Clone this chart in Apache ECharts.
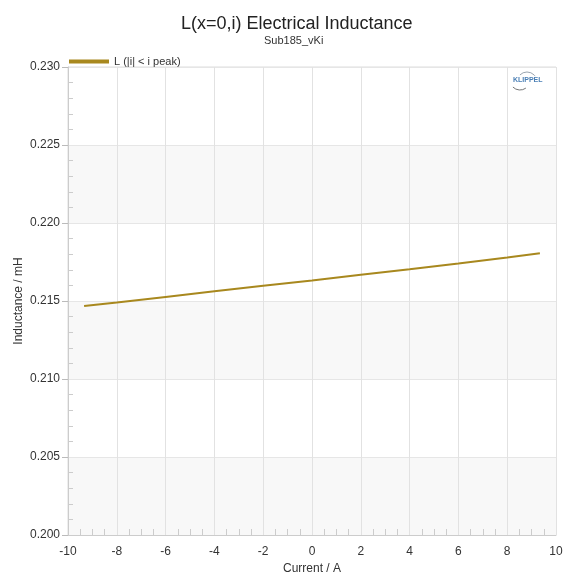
<!DOCTYPE html>
<html><head><meta charset="utf-8">
<script src="https://cdn.jsdelivr.net/npm/echarts@6/dist/echarts.min.js"></script>
<style>html,body{margin:0;padding:0;background:#fff}#c{width:563px;height:576px}</style>
</head><body><div id="c"></div>
<script>
const currentA = [-9.34, -8, -6, -4, -2, 0, 2, 4, 6, 8, 9.34];
const inductanceMH = [0.21468, 0.21490, 0.21526, 0.21562, 0.21597, 0.21632, 0.21668, 0.21704, 0.21741, 0.21779, 0.21806];
const seriesName = 'L (|i| < i peak)';
const yTicks = { min: 0.200, max: 0.230, interval: 0.005 };
const xTicks = { min: -10, max: 10, interval: 2 };

const font = 'Liberation Sans, Arial, sans-serif';
const chart = echarts.init(document.getElementById('c'));
chart.setOption({
  animation: false,
  backgroundColor: '#fff',
  title: [{
    text: 'L(x=0,i) Electrical Inductance',
    left: 176, top: 10,
    textStyle: { fontFamily: font, fontSize: 18, fontWeight: 'normal', color: '#222' }
  }, {
    text: 'Sub185_vKi',
    left: 259, top: 30,
    textStyle: { fontFamily: font, fontSize: 11, fontWeight: 'normal', color: '#333' }
  }],
  legend: {
    left: 64, top: 51, icon: 'rect', itemWidth: 40, itemHeight: 4, itemGap: 5,
    textStyle: { fontFamily: font, fontSize: 11, color: '#333' },
    data: [seriesName]
  },
  grid: { left: 68, right: 7, top: 67, bottom: 41, outerBoundsMode: 'none', containLabel: false, show: true, borderColor: '#ddd', borderWidth: 1 },
  xAxis: {
    type: 'value', min: xTicks.min, max: xTicks.max, interval: xTicks.interval,
    name: 'Current / A', nameLocation: 'middle', nameGap: 28,
    nameTextStyle: { fontFamily: font, fontSize: 12, color: '#333' },
    axisLine: { show: true, onZero: false, lineStyle: { color: '#ccc' } },
    axisTick: { show: false, inside: true },
    minorTick: { show: true, splitNumber: 4, length: 6, lineStyle: { color: '#ccc' } },
    axisLabel: { fontFamily: font, fontSize: 12, color: '#333', margin: 11 },
    splitLine: { show: true, lineStyle: { color: '#e2e2e2' } }
  },
  yAxis: [{
    type: 'value', min: yTicks.min, max: yTicks.max, interval: yTicks.interval,
    name: 'Inductance / mH', nameLocation: 'middle', nameGap: 43, nameMoveOverlap: false,
    nameTextStyle: { fontFamily: font, fontSize: 12, color: '#333' },
    axisLine: { show: true, onZero: false, lineStyle: { color: '#ccc' } },
    axisTick: { show: true, length: 6, lineStyle: { color: '#bbb' } },
    axisLabel: { fontFamily: font, fontSize: 12, color: '#333', margin: 8, formatter: v => v.toFixed(3) },
    splitLine: { show: true, lineStyle: { color: '#e6e6e6' } },
    splitArea: { show: true, areaStyle: { color: ['#f8f8f8', '#ffffff'] } }
  }, {
    type: 'value', min: yTicks.min, max: yTicks.max, interval: yTicks.interval, position: 'left',
    axisLine: { show: false, onZero: false }, axisLabel: { show: false }, splitLine: { show: false },
    axisTick: { show: false, inside: true },
    minorTick: { show: true, splitNumber: 5, length: 5, lineStyle: { color: '#ccc' } }
  }],
  graphic: [
    { type: 'text', x: 513, y: 77, z: 100, style: { text: 'KLIPPEL', fontFamily: font, fontSize: 7, fontWeight: 'bold', fill: '#4a7fb5' } },
    { type: 'arc', z: 100, shape: { cx: 527, cy: 82, r: 10, startAngle: Math.PI * 1.25, endAngle: Math.PI * 1.8 }, style: { stroke: '#9aa5b0', lineWidth: 1, fill: 'none' } },
    { type: 'arc', z: 100, shape: { cx: 520, cy: 80, r: 10, startAngle: Math.PI * 0.3, endAngle: Math.PI * 0.75 }, style: { stroke: '#777', lineWidth: 1, fill: 'none' } }
  ],
  series: [{
    name: seriesName, type: 'line', yAxisIndex: 0,
    data: currentA.map((x, i) => [x, inductanceMH[i]]),
    showSymbol: false,
    lineStyle: { color: '#a8881e', width: 2 },
    itemStyle: { color: '#a8881e' }
  }]
});
</script></body></html>
